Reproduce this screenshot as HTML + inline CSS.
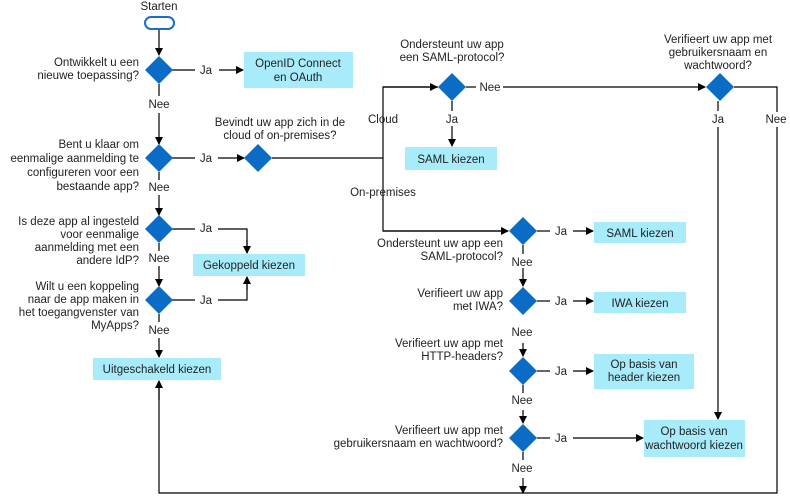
<!DOCTYPE html>
<html><head><meta charset="utf-8"><style>
body{margin:0;background:#fff}
svg text{font-family:"Liberation Sans",sans-serif;font-size:11.5px;fill:#222}
</style></head><body>
<svg width="790" height="497" viewBox="0 0 790 497" xmlns="http://www.w3.org/2000/svg">
<defs><marker id="a" markerWidth="8" markerHeight="8" refX="7" refY="4" orient="auto" markerUnits="userSpaceOnUse"><path d="M0,0 L8,4 L0,8z" fill="#000"/></marker></defs>
<g stroke="#000" stroke-width="1.2" fill="none">
<line x1="159" y1="30" x2="159" y2="55" marker-end="url(#a)"/>
<line x1="172" y1="70" x2="195" y2="70"/><line x1="219" y1="70" x2="243" y2="70" marker-end="url(#a)"/>
<line x1="159" y1="84" x2="159" y2="96"/><line x1="159" y1="113" x2="159" y2="144" marker-end="url(#a)"/>
<line x1="172" y1="158" x2="195" y2="158"/><line x1="218" y1="158" x2="244" y2="158" marker-end="url(#a)"/>
<line x1="272" y1="158" x2="383" y2="158"/>
<polyline points="438,87 383,87 383,231 508,231" />
<line x1="383" y1="87" x2="437" y2="87" marker-end="url(#a)"/>
<line x1="383" y1="231" x2="508" y2="231" marker-end="url(#a)"/>
<line x1="466" y1="87" x2="476" y2="87"/><line x1="503" y1="87" x2="705" y2="87" marker-end="url(#a)"/>
<line x1="452" y1="101" x2="452" y2="111"/><line x1="452" y1="126" x2="452" y2="146" marker-end="url(#a)"/>
<line x1="718" y1="101" x2="718" y2="111"/><line x1="718" y1="127" x2="718" y2="419" marker-end="url(#a)"/>
<polyline points="734,87 777,87 777,112"/><polyline points="777,127 777,493 159,493 159,381"/>
<line x1="159" y1="400" x2="159" y2="381" marker-end="url(#a)"/>
<line x1="159" y1="172" x2="159" y2="180"/><line x1="159" y1="195" x2="159" y2="215" marker-end="url(#a)"/>
<line x1="172" y1="229" x2="195" y2="229"/><polyline points="218,229 247,229 247,253"/>
<line x1="247" y1="240" x2="247" y2="253" marker-end="url(#a)"/>
<line x1="159" y1="243" x2="159" y2="251"/><line x1="159" y1="266" x2="159" y2="286" marker-end="url(#a)"/>
<line x1="172" y1="300" x2="195" y2="300"/><polyline points="218,300 247,300 247,277"/>
<line x1="247" y1="290" x2="247" y2="277" marker-end="url(#a)"/>
<line x1="159" y1="314" x2="159" y2="322"/><line x1="159" y1="338" x2="159" y2="357" marker-end="url(#a)"/>
<line x1="537" y1="231" x2="550" y2="231"/><line x1="573" y1="231" x2="593" y2="231" marker-end="url(#a)"/>
<line x1="537" y1="301" x2="550" y2="301"/><line x1="573" y1="301" x2="593" y2="301" marker-end="url(#a)"/>
<line x1="537" y1="371" x2="550" y2="371"/><line x1="573" y1="371" x2="593" y2="371" marker-end="url(#a)"/>
<line x1="537" y1="438" x2="550" y2="438"/><line x1="573" y1="438" x2="643" y2="438" marker-end="url(#a)"/>
<line x1="523" y1="245" x2="523" y2="254"/><line x1="523" y1="268" x2="523" y2="286" marker-end="url(#a)"/>
<line x1="523" y1="343" x2="523" y2="356" marker-end="url(#a)"/>
<line x1="523" y1="385" x2="523" y2="393"/><line x1="523" y1="410" x2="523" y2="423" marker-end="url(#a)"/>
<line x1="523" y1="452" x2="523" y2="460"/><line x1="523" y1="478" x2="523" y2="493" marker-end="url(#a)"/>
</g>
<rect x="145" y="17" width="29" height="12" rx="6" fill="#fff" stroke="#1a6fc4" stroke-width="2"/>
<g fill="#0a6cc4">
<polygon points="159,56 173,70 159,84 145,70"/>
<polygon points="159,144 173,158 159,172 145,158"/>
<polygon points="159,215 173,229 159,243 145,229"/>
<polygon points="159,286 173,300 159,314 145,300"/>
<polygon points="258,144 272,158 258,172 244,158"/>
<polygon points="452,73 466,87 452,101 438,87"/>
<polygon points="720,73 734,87 720,101 706,87"/>
<polygon points="523,217 537,231 523,245 509,231"/>
<polygon points="523,287 537,301 523,315 509,301"/>
<polygon points="523,357 537,371 523,385 509,371"/>
<polygon points="523,424 537,438 523,452 509,438"/>
</g>
<g fill="#a8ecfb">
<rect x="244" y="52" width="109" height="36"/>
<rect x="405" y="147" width="92" height="23"/>
<rect x="193" y="254" width="112" height="22"/>
<rect x="93" y="358" width="128" height="22"/>
<rect x="594" y="222" width="92" height="21"/>
<rect x="594" y="292" width="92" height="21"/>
<rect x="594" y="354" width="100" height="35"/>
<rect x="644" y="420" width="101" height="37"/>
</g>
<g text-anchor="middle">
<text x="159" y="10">Starten</text>
<text x="298" y="67">OpenID Connect</text><text x="298" y="81">en OAuth</text>
<text x="451" y="163">SAML kiezen</text>
<text x="249" y="269">Gekoppeld kiezen</text>
<text x="157" y="373">Uitgeschakeld kiezen</text>
<text x="640" y="237">SAML kiezen</text>
<text x="640" y="307">IWA kiezen</text>
<text x="644" y="368">Op basis van</text><text x="644" y="381">header kiezen</text>
<text x="694" y="435">Op basis van</text><text x="694" y="449">wachtwoord kiezen</text>
<text x="206" y="74">Ja</text><text x="206" y="162">Ja</text><text x="206" y="232">Ja</text><text x="206" y="304">Ja</text>
<text x="159" y="108">Nee</text><text x="159" y="191">Nee</text><text x="159" y="262">Nee</text><text x="159" y="334">Nee</text>
<text x="280" y="126">Bevindt uw app zich in de</text><text x="280" y="139">cloud of on-premises?</text>
<text x="383" y="123">Cloud</text><text x="383" y="196">On-premises</text>
<text x="452" y="48">Ondersteunt uw app</text><text x="452" y="61">een SAML-protocol?</text>
<text x="490" y="91">Nee</text><text x="452" y="123">Ja</text>
<text x="718" y="43">Verifieert uw app met</text><text x="718" y="56">gebruikersnaam en</text><text x="718" y="69">wachtwoord?</text>
<text x="718" y="123">Ja</text><text x="776" y="123">Nee</text>
<text x="561" y="235">Ja</text><text x="561" y="305">Ja</text><text x="561" y="375">Ja</text><text x="561" y="442">Ja</text>
<text x="522" y="266">Nee</text><text x="522" y="336">Nee</text><text x="522" y="404">Nee</text><text x="522" y="472">Nee</text>
</g>
<g text-anchor="end">
<text x="139" y="66">Ontwikkelt u een</text><text x="139" y="79">nieuwe toepassing?</text>
<text x="139" y="148">Bent u klaar om</text><text x="139" y="162">eenmalige aanmelding te</text><text x="139" y="176">configureren voor een</text><text x="139" y="190">bestaande app?</text>
<text x="139" y="225">Is deze app al ingesteld</text><text x="139" y="238">voor eenmalige</text><text x="139" y="251">aanmelding met een</text><text x="139" y="264">andere IdP?</text>
<text x="139" y="290">Wilt u een koppeling</text><text x="139" y="303">naar de app maken in</text><text x="139" y="316">het toegangvenster van</text><text x="139" y="329">MyApps?</text>
<text x="503" y="247">Ondersteunt uw app een</text><text x="503" y="260">SAML-protocol?</text>
<text x="503" y="297">Verifieert uw app</text><text x="503" y="310">met IWA?</text>
<text x="503" y="347">Verifieert uw app met</text><text x="503" y="360">HTTP-headers?</text>
<text x="503" y="434">Verifieert uw app met</text><text x="503" y="447">gebruikersnaam en wachtwoord?</text>
</g>
</svg>
</body></html>
